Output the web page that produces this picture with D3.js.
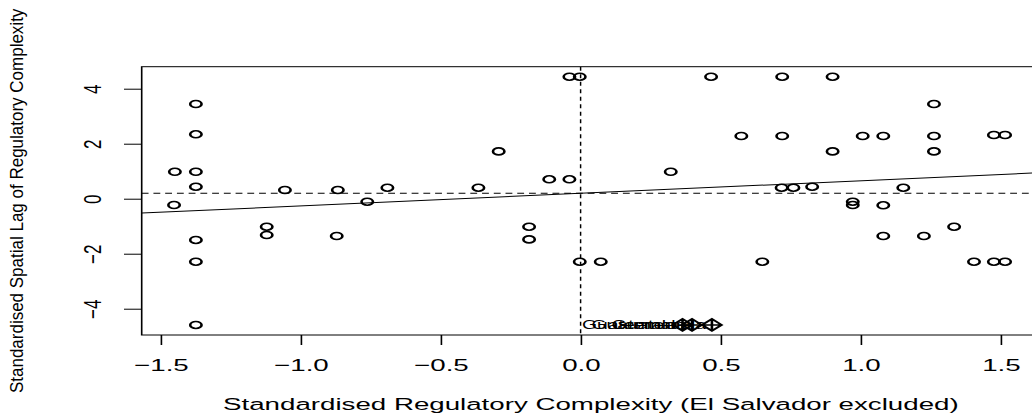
<!DOCTYPE html>
<html>
<head>
<meta charset="utf-8">
<script src="https://cdn.jsdelivr.net/npm/d3@7"></script>
<style>
  body { margin: 0; background: #fff; }
  svg { display: block; }
  text { font-family: "Liberation Sans", Arial, Helvetica, sans-serif; fill: #000; }
</style>
</head>
<body>
<svg id="chart"></svg>
<script>
// standardised regulatory complexity (x) and its spatial lag (y)
const regComplexity = [
  -1.374, -1.374, -1.374, -1.374, -1.374, -1.374, -1.374, -1.449, -1.452,
  -1.121, -1.121, -1.056, -0.867, -0.871, -0.762, -0.690, -0.365, -0.2925,
  -0.184, -0.184, -0.112, -0.040, -0.040, -0.003, -0.003, 0.072, 0.322,
  0.466, 0.574, 0.649, 0.720, 0.720, 0.718, 0.760, 0.827, 0.900, 0.900,
  0.972, 0.972, 1.0075, 1.081, 1.081, 1.081, 1.1525, 1.226, 1.262, 1.262,
  1.262, 1.334, 1.405, 1.476, 1.476, 1.516, 1.516
];
const lagComplexity = [
  3.444, 2.342, 0.98, 0.436, -1.50, -2.29, -4.59, 0.98, -0.229,
  -1.018, -1.32, 0.316, 0.316, -1.356, -0.109, 0.40, 0.40, 1.72,
  -1.018, -1.48, 0.705, 0.705, 4.436, 4.436, -2.29, -2.29, 0.98,
  4.436, 2.28, -2.29, 4.436, 2.28, 0.40, 0.40, 0.436, 4.436, 1.72,
  -0.109, -0.229, 2.28, 2.28, -0.24, -1.356, 0.40, -1.356, 3.444, 2.28,
  1.72, -1.018, -2.29, 2.316, -2.29, 2.316, -2.29
];

// influential observations (pch 9 + label)
const influentialX = [0.364, 0.398, 0.469];
const influentialLag = [-4.59, -4.59, -4.59];
const influentialLabels = ["Guatemala", "Guatemala", "Guatemala"];

const xTicks = [-1.5, -1.0, -0.5, 0.0, 0.5, 1.0, 1.5];
const yTicks = [-4, -2, 0, 2, 4];

const meanX = 0;
const meanLag = 0.196;
const slope = 0.457;

const xTitle = "Standardised Regulatory Complexity (El Salvador excluded)";
const yTitle = "Standardised Spatial Lag of Regulatory Complexity";

const width = 1032, height = 419;
const SX = 1.63; // the picture is stretched sideways
const fontSize = 17;

const plot = { left: 141.7, right: 1040, top: 66.7, bottom: 335 };

const svg = d3.select("#chart").attr("width", width).attr("height", height);
const g = svg.append("g").attr("transform", `scale(${SX},1)`);

const x = d3.scaleLinear()
  .domain([-1.5675, 1.6407])
  .range([plot.left / SX, plot.right / SX]);
const y = d3.scaleLinear()
  .domain([-4.956, 4.80])
  .range([plot.bottom, plot.top]);

g.append("clipPath").attr("id", "clip")
  .append("rect")
  .attr("x", x.range()[0]).attr("y", plot.top)
  .attr("width", x.range()[1] - x.range()[0])
  .attr("height", plot.bottom - plot.top);

// axes
const xAxis = g.append("g")
  .attr("transform", `translate(0,${plot.bottom})`)
  .call(d3.axisBottom(x).tickValues(xTicks).tickSize(10).tickPadding(14)
    .tickFormat(d3.format(".1f")).tickSizeOuter(0));
xAxis.select(".domain").remove();
xAxis.selectAll("line").attr("stroke", "#000");
xAxis.selectAll("text").attr("font-size", fontSize).attr("font-family", null);

const yAxis = g.append("g")
  .attr("transform", `translate(${x.range()[0]},0)`)
  .call(d3.axisLeft(y).tickValues(yTicks).tickSize(17.7 / SX).tickFormat(d3.format("d")).tickSizeOuter(0));
yAxis.select(".domain").remove();
yAxis.selectAll("line").attr("stroke", "#000");
yAxis.selectAll("text")
  .attr("font-size", fontSize).attr("font-family", null)
  .attr("x", null).attr("dy", "0.35em")
  .attr("text-anchor", "middle")
  .attr("transform", `translate(${(92.5 - plot.left) / SX},0) scale(${1.4 / SX},1) rotate(-90)`);

// box
g.append("rect")
  .attr("x", x.range()[0]).attr("y", plot.top)
  .attr("width", x.range()[1] - x.range()[0])
  .attr("height", plot.bottom - plot.top)
  .attr("fill", "none").attr("stroke", "#000").attr("stroke-width", 1);

const inner = g.append("g").attr("clip-path", "url(#clip)");

// points
inner.selectAll("circle.pt")
  .data(d3.range(regComplexity.length))
  .enter().append("circle")
  .attr("class", "pt")
  .attr("cx", i => x(regComplexity[i]))
  .attr("cy", i => y(lagComplexity[i]))
  .attr("r", 3.5)
  .attr("fill", "none").attr("stroke", "#000").attr("stroke-width", 1.6);

// regression line and means
const [x0, x1] = x.domain();
inner.append("line")
  .attr("x1", x(x0)).attr("y1", y(meanLag + slope * (x0 - meanX)))
  .attr("x2", x(x1)).attr("y2", y(meanLag + slope * (x1 - meanX)))
  .attr("stroke", "#000").attr("stroke-width", 1);
inner.append("line")
  .attr("x1", x(x0)).attr("x2", x(x1))
  .attr("y1", y(meanLag)).attr("y2", y(meanLag))
  .attr("stroke", "#000").attr("stroke-dasharray", "4.2,3");
inner.append("line")
  .attr("x1", x(meanX)).attr("x2", x(meanX))
  .attr("y1", plot.top).attr("y2", plot.bottom)
  .attr("stroke", "#000").attr("stroke-dasharray", "4,3.5").attr("stroke-width", 0.9);

// influential points
const dia = 6;
const infl = inner.selectAll("g.infl")
  .data(d3.range(influentialX.length))
  .enter().append("g")
  .attr("class", "infl")
  .attr("transform", i => `translate(${x(influentialX[i])},${y(influentialLag[i])})`);
infl.append("path")
  .attr("d", `M${-dia},0L0,${-dia}L${dia},0L0,${dia}ZM${-dia},0H${dia}M0,${-dia}V${dia}`)
  .attr("fill", "none").attr("stroke", "#000").attr("stroke-width", 1.6);

g.selectAll("text.lab")
  .data(d3.range(influentialX.length))
  .enter().append("text")
  .attr("class", "lab")
  .attr("x", i => x(influentialX[i]) - 3.5)
  .attr("y", i => y(influentialLag[i]))
  .attr("dy", "0.35em")
  .attr("text-anchor", "end")
  .attr("font-size", fontSize * 0.7)
  .text(i => influentialLabels[i]);

// titles
g.append("text")
  .attr("x", (plot.left + plot.right) / 2 / SX)
  .attr("y", 410)
  .attr("text-anchor", "middle")
  .attr("font-size", fontSize)
  .text(xTitle);

g.append("text")
  .attr("transform", `translate(${17 / SX},${(plot.top + plot.bottom) / 2}) scale(${1.05 / SX},1) rotate(-90)`)
  .attr("dy", "0.35em")
  .attr("text-anchor", "middle")
  .attr("font-size", fontSize)
  .text(yTitle);
</script>
</body>
</html>
